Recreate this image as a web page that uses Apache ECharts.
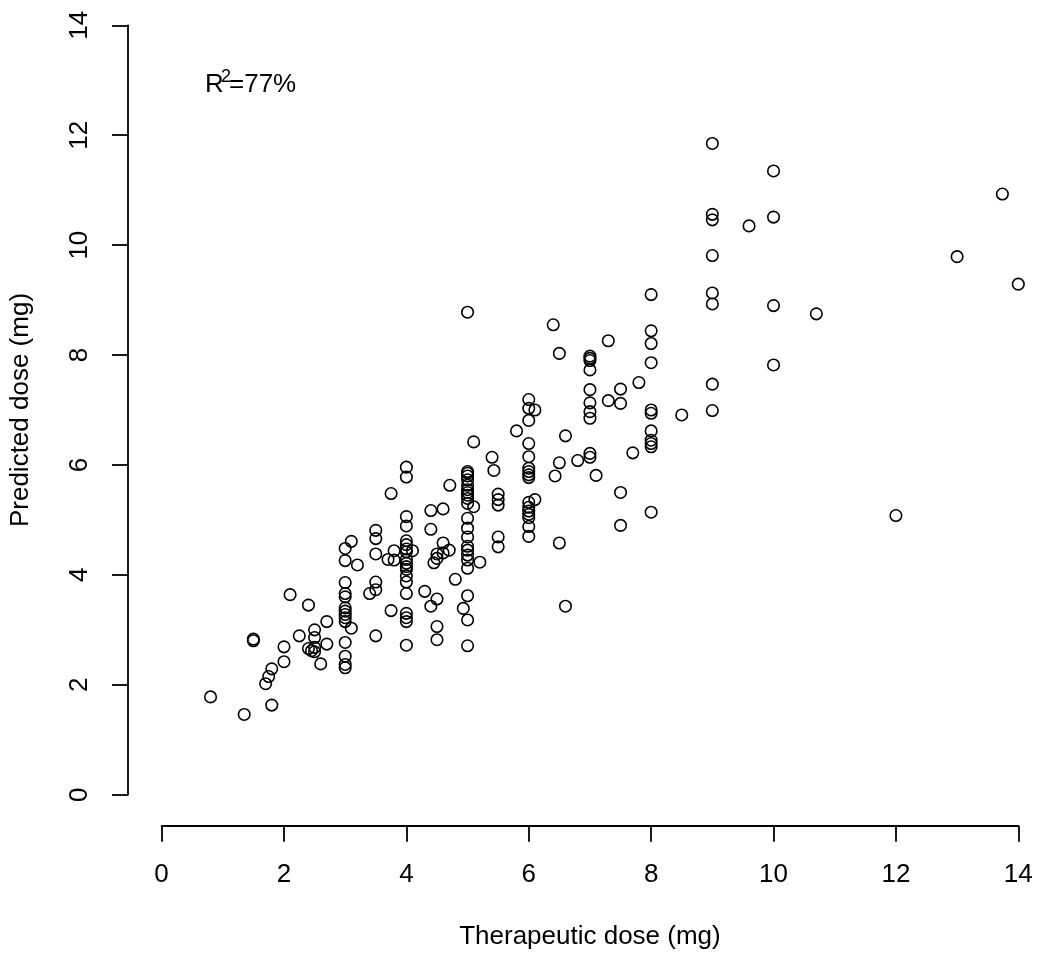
<!DOCTYPE html>
<html>
<head>
<meta charset="utf-8">
<script src="https://cdn.jsdelivr.net/npm/echarts@6/dist/echarts.min.js"></script>
<style>
html,body{margin:0;padding:0;background:#fff;}
#chart{width:1050px;height:966px;}
</style>
</head>
<body>
<div id="chart"></div>
<script>
// Therapeutic dose (x) and predicted dose (y)
const therapeuticDose = [
  0.8, 1.35, 1.5, 1.5, 1.7, 1.75, 1.8, 1.8, 2.0, 2.0, 2.1, 2.25, 2.4, 2.4, 2.45, 2.5, 2.5, 2.5, 2.5, 2.6, 2.7, 2.7,
  3, 3, 3, 3, 3, 3, 3, 3, 3, 3, 3, 3, 3, 3,
  3.1, 3.2, 3.1,
  3.5, 3.5, 3.5, 3.5, 3.5, 3.5, 3.4,
  3.75, 3.75, 3.7, 3.8, 3.8,
  4, 4, 4, 4, 4, 4, 4, 4, 4, 4, 4, 4, 4, 4, 4, 4, 4, 4, 4,
  4.1, 4.3, 4.4, 4.4, 4.6, 4.71, 4.5, 4.4, 4.5, 4.5, 4.8, 4.5, 4.45, 4.6, 4.6, 4.7, 4.5,
  4.93,
  5, 5, 5, 5, 5, 5, 5, 5, 5, 5, 5, 5, 5, 5, 5, 5, 5, 5, 5, 5, 5, 5,
  5.1, 5.2, 5.1, 5.4, 5.43,
  5.5, 5.5, 5.5, 5.5, 5.5,
  5.8,
  6, 6, 6, 6, 6, 6, 6, 6, 6, 6, 6, 6, 6, 6, 6, 6,
  6.1, 6.1,
  6.4, 6.5, 6.6, 6.5, 6.43, 6.8, 6.5, 6.6,
  7, 7, 7, 7, 7, 7, 7, 7, 7, 7,
  7.1, 7.3, 7.3, 7.5, 7.5, 7.8, 7.7, 7.5, 7.5,
  8, 8, 8, 8, 8, 8, 8, 8, 8, 8, 8,
  8.5,
  9, 9, 9, 9, 9, 9, 9, 9,
  9.6,
  10, 10, 10, 10,
  10.7, 12, 13, 13.74, 14
];
const predictedDose = [
  1.78, 1.46, 2.80, 2.83, 2.02, 2.15, 2.29, 1.63, 2.42, 2.69, 3.64, 2.89, 3.45, 2.66, 2.62, 2.60, 2.68, 2.86, 3.00, 2.38, 3.15, 2.74,
  4.48, 4.26, 3.86, 3.66, 3.60, 3.40, 3.34, 3.28, 3.22, 3.15, 2.77, 2.52, 2.37, 2.31,
  4.61, 4.18, 3.03,
  4.81, 4.66, 4.38, 3.87, 3.73, 2.89, 3.66,
  5.48, 3.35, 4.28, 4.27, 4.44,
  5.96, 5.78, 5.06, 4.89, 4.62, 4.55, 4.47, 4.42, 4.28, 4.21, 4.15, 4.10, 3.98, 3.87, 3.66, 3.30, 3.22, 3.15, 2.72,
  4.44, 3.70, 5.17, 4.83, 5.20, 5.63, 3.56, 3.43, 3.06, 2.82, 3.92, 4.38, 4.22, 4.40, 4.58, 4.45, 4.30,
  3.39,
  8.78, 5.88, 5.85, 5.80, 5.73, 5.63, 5.55, 5.50, 5.45, 5.39, 5.30, 5.03, 4.85, 4.69, 4.52, 4.45, 4.36, 4.27, 4.12, 3.62, 3.18, 2.71,
  5.24, 4.23, 6.42, 6.14, 5.90,
  5.47, 5.37, 5.27, 4.69, 4.51,
  6.62,
  7.19, 7.03, 6.81, 6.39, 6.15, 5.94, 5.88, 5.82, 5.77, 5.32, 5.23, 5.16, 5.10, 5.04, 4.88, 4.70,
  7.00, 5.37,
  8.55, 8.03, 6.53, 6.04, 5.80, 6.08, 4.58, 3.43,
  7.98, 7.94, 7.90, 7.73, 7.37, 7.13, 6.97, 6.85, 6.21, 6.14,
  5.81, 8.26, 7.17, 7.38, 7.12, 7.50, 6.22, 5.50, 4.90,
  9.10, 8.44, 8.21, 7.86, 7.00, 6.94, 6.62, 6.45, 6.39, 6.33, 5.14,
  6.91,
  11.85, 10.56, 10.46, 9.81, 9.13, 8.93, 7.47, 6.99,
  10.35,
  11.35, 10.51, 8.90, 7.82,
  8.75, 5.08, 9.79, 10.93, 9.29
];
const xTickValues = [0, 2, 4, 6, 8, 10, 12, 14];
const yTickValues = [0, 2, 4, 6, 8, 10, 12, 14];
const xTitle = 'Therapeutic dose (mg)';
const yTitle = 'Predicted dose (mg)';
const r2Label = { base: 'R', sup: '2', rest: '=77%' };

const FONT = '"Liberation Sans", Arial, Helvetica, sans-serif';
const FS = 26;
const points = therapeuticDose.map((x, i) => [x, predictedDose[i]]);

const chart = echarts.init(document.getElementById('chart'), null, { renderer: 'canvas' });

const axisCommon = {
  type: 'value',
  min: xTickValues[0],
  max: xTickValues[xTickValues.length - 1],
  interval: xTickValues[1] - xTickValues[0],
  splitLine: { show: false },
  axisLine: { show: true, onZero: false, lineStyle: { color: '#000', width: 1.8 } },
  axisTick: { show: true, length: 16, inside: false, lineStyle: { color: '#000', width: 1.8 } },
  nameLocation: 'middle',
  nameTextStyle: { fontFamily: FONT, fontSize: FS, color: '#000' }
};

chart.setOption({
  animation: false,
  backgroundColor: '#fff',
  grid: { left: 160.3, right: 31.7, top: 25.3, bottom: 171.3, containLabel: false, show: false },
  xAxis: Object.assign({}, axisCommon, {
    offset: 31,
    name: xTitle,
    nameGap: 98,
    axisLabel: { fontFamily: FONT, fontSize: FS, color: '#000', margin: 36 }
  }),
  yAxis: Object.assign({}, axisCommon, {
    min: yTickValues[0],
    max: yTickValues[yTickValues.length - 1],
    interval: yTickValues[1] - yTickValues[0],
    offset: 33.6,
    name: yTitle,
    nameGap: 94,
    axisLabel: { fontFamily: FONT, fontSize: FS, color: '#000', margin: 35, rotate: 90 }
  }),
  graphic: [
    { type: 'text', x: 205, y: 85, style: { text: r2Label.base, font: FS + 'px ' + FONT, fill: '#000', align: 'left', verticalAlign: 'middle' } },
    { type: 'text', x: 221, y: 77, style: { text: r2Label.sup, font: '18px ' + FONT, fill: '#000', align: 'left', verticalAlign: 'middle' } },
    { type: 'text', x: 229, y: 85, style: { text: r2Label.rest, font: FS + 'px ' + FONT, fill: '#000', align: 'left', verticalAlign: 'middle' } }
  ],
  series: [{
    type: 'scatter',
    data: points,
    symbol: 'circle',
    symbolSize: 11.5,
    clip: false,
    itemStyle: { color: 'rgba(0,0,0,0)', borderColor: '#000', borderWidth: 1.6, opacity: 1 },
    emphasis: { disabled: true }
  }]
});
</script>
</body>
</html>
